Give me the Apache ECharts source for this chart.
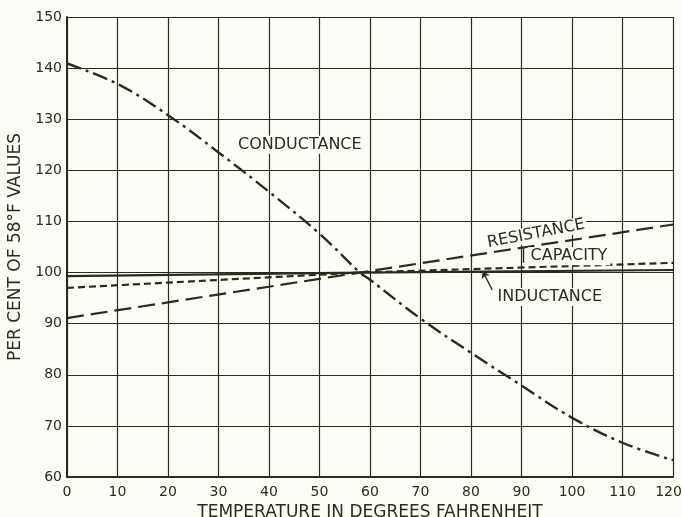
<!DOCTYPE html>
<html>
<head>
<meta charset="utf-8">
<script src="https://cdn.jsdelivr.net/npm/echarts@6/dist/echarts.min.js"></script>
<style>
  html, body { margin: 0; padding: 0; background: #fdfdf8; }
  #chart { width: 682px; height: 517px; }
</style>
</head>
<body>
<div id="chart"></div>
<script>
// values, per cent of 58°F values
const condTemps = [0, 10, 20, 30, 40, 50, 58, 60, 70, 80, 90, 100, 110, 120];
const conductance = [140.9, 136.9, 130.8, 123.5, 115.8, 107.6, 100, 98.6, 91.0, 84.3, 77.9, 71.6, 66.7, 63.3];
const lineTemps = [0, 58, 120];
const resistance = [91.1, 100, 109.4];
const capacity = [97.0, 100, 101.9];
const inductance = [99.3, 100, 100.5];

const ink = "#2b2b1e";
const paper = "#fdfdf8";
const font = "DejaVu Sans";

const pairs = (xs, ys) => xs.map((x, i) => [x, ys[i]]);

// text labels on the plot (data coords)
const noteLabel = (text, coord, extra) => ({
  coord: coord,
  symbol: "circle",
  symbolSize: 1,
  itemStyle: { color: "rgba(0,0,0,0)" },
  label: Object.assign({
    show: true,
    formatter: text,
    position: "inside",
    color: ink,
    fontFamily: font,
    fontSize: 16,
    backgroundColor: paper,
    padding: [1, 3],
  }, extra || {}),
});

const chart = echarts.init(document.getElementById("chart"));
chart.setOption({
  backgroundColor: paper,
  animation: false,
  grid: { left: 67, right: 9, top: 17, bottom: 40, outerBoundsMode: "none" },
  xAxis: {
    type: "value",
    min: 0,
    max: 120,
    interval: 10,
    name: "TEMPERATURE IN DEGREES FAHRENHEIT",
    nameLocation: "middle",
    nameGap: 19,
    nameTextStyle: { color: ink, fontFamily: font, fontSize: 17 },
    axisLine: { lineStyle: { color: ink, width: 2 } },
    axisTick: { show: false },
    axisLabel: {
      color: ink,
      fontFamily: font,
      fontSize: 14,
      margin: 8,
      // last label sits a little left so it stays on the page
      formatter: (v) => (v === 120 ? "{last|120}" : String(v)),
      rich: { last: { color: ink, fontFamily: font, fontSize: 14, padding: [0, 9, 0, 0] } },
    },
    splitLine: { show: true, lineStyle: { color: ink, width: 1.2 } },
  },
  yAxis: {
    type: "value",
    min: 60,
    max: 150,
    interval: 10,
    name: "PER CENT OF 58°F VALUES",
    nameLocation: "middle",
    nameGap: 41,
    nameTextStyle: { color: ink, fontFamily: font, fontSize: 17 },
    axisLine: { show: true, lineStyle: { color: ink, width: 2 } },
    axisTick: { show: false },
    axisLabel: { color: ink, fontFamily: font, fontSize: 14, margin: 5 },
    splitLine: { show: true, lineStyle: { color: ink, width: 1.2 } },
  },
  series: [
    {
      name: "Inductance",
      type: "line",
      data: pairs(lineTemps, inductance),
      showSymbol: false,
      lineStyle: { color: ink, width: 2.2 },
      markPoint: {
        silent: true,
        data: [noteLabel("INDUCTANCE", [95.6, 95.2])],
      },
      markLine: {
        silent: true,
        symbol: ["none", "arrow"],
        symbolSize: 7,
        label: { show: false },
        lineStyle: { color: ink, width: 1.4, type: "solid", curveness: -0.25 },
        data: [[{ coord: [84.2, 96.6] }, { coord: [82.3, 100.3] }]],
      },
    },
    {
      name: "Capacity",
      type: "line",
      data: pairs(lineTemps, capacity),
      showSymbol: false,
      lineStyle: { color: ink, width: 2.2, type: [7, 4] },
      markPoint: {
        silent: true,
        data: [noteLabel("CAPACITY", [99.4, 103.2])],
      },
      markLine: {
        silent: true,
        symbol: "none",
        label: { show: false },
        lineStyle: { color: ink, width: 1.4, type: "solid" },
        data: [[{ coord: [90.4, 104.9] }, { coord: [90.4, 101.9] }]],
      },
    },
    {
      name: "Resistance",
      type: "line",
      data: pairs(lineTemps, resistance),
      showSymbol: false,
      lineStyle: { color: ink, width: 2.2, type: [17, 7] },
      markPoint: {
        silent: true,
        data: [noteLabel("RESISTANCE", [92.9, 107.6], { rotate: 11, padding: [0, 2] })],
      },
    },
    {
      name: "Conductance",
      type: "line",
      smooth: 0.4,
      data: pairs(condTemps, conductance),
      showSymbol: false,
      lineStyle: { color: ink, width: 2.4, type: [15, 5, 3, 5] },
      markPoint: {
        silent: true,
        data: [noteLabel("CONDUCTANCE", [46.1, 125.0])],
      },
    },
  ],
});
</script>
</body>
</html>
